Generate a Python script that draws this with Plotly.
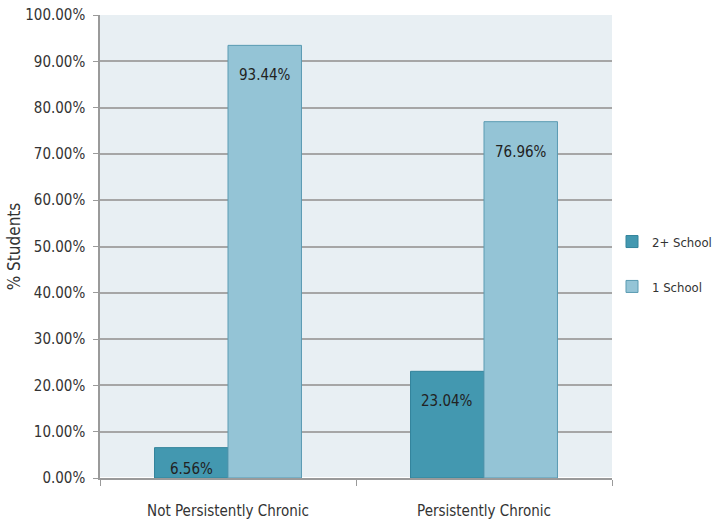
import plotly.graph_objects as go

categories = ["Not Persistently Chronic", "Persistently Chronic"]
two_plus = [6.56, 23.04]
one_school = [93.44, 76.96]
series_names = ["2+ School", "1 School"]
y_ticks = [0, 10, 20, 30, 40, 50, 60, 70, 80, 90, 100]
y_tick_text = [f"{v:.2f}%" for v in y_ticks]

FONT = "DejaVu Sans Condensed, Liberation Sans Narrow, Liberation Sans, Arial"
BARGAP = 0.426

fig = go.Figure()
fig.add_trace(go.Bar(
    x=categories, y=two_plus, name=series_names[0], legendgroup="a",
    marker=dict(color="#4398B0", line=dict(color="#33849B", width=1)),
))
fig.add_trace(go.Bar(
    x=categories, y=one_school, name=series_names[1], legendgroup="b",
    marker=dict(color="#94C4D6", line=dict(color="#5A9BB2", width=1)),
))

# value labels inside the top of each bar
half = (1 - BARGAP) / 4
for series, off in ((two_plus, -half), (one_school, half)):
    for i, v in enumerate(series):
        fig.add_annotation(
            x=i + off, y=v, xref="x", yref="y", text=f"{v:.2f}%",
            showarrow=False, yanchor="middle",
            yshift=-30 if v > 10 else -21,
            font=dict(family=FONT, size=15, color="#222222"),
        )

fig.update_layout(
    width=718, height=525,
    margin=dict(l=100, r=106, t=15, b=47, autoexpand=False),
    barmode="group", bargap=BARGAP, bargroupgap=0,
    plot_bgcolor="#E8EFF3", paper_bgcolor="white",
    font=dict(family=FONT, size=14, color="#333333"),
    showlegend=True,
    legend=dict(x=1.0, y=0.462, yanchor="middle", xanchor="left",
                traceorder="grouped", font=dict(size=13, color="#333333"),
                itemwidth=30, tracegroupgap=25),
)
fig.update_xaxes(
    showline=True, linecolor="#9A9A9A", linewidth=1.5,
    ticks="outside", tickson="boundaries", ticklen=6, tickcolor="#9A9A9A",
    tickfont=dict(size=15, color="#333333"), ticklabelstandoff=18,
)
fig.update_yaxes(
    range=[0, 100], tickvals=y_ticks, ticktext=y_tick_text,
    showgrid=True, gridcolor="#A6A6A6", gridwidth=1.5,
    showline=True, linecolor="#9A9A9A", linewidth=1.5,
    ticks="outside", ticklen=5, tickcolor="#9A9A9A",
    title=dict(text="% Students", font=dict(size=17, color="#333333"), standoff=0),
    tickfont=dict(size=15, color="#333333"), ticklabelstandoff=5,
)

fig.write_html("out.html")
